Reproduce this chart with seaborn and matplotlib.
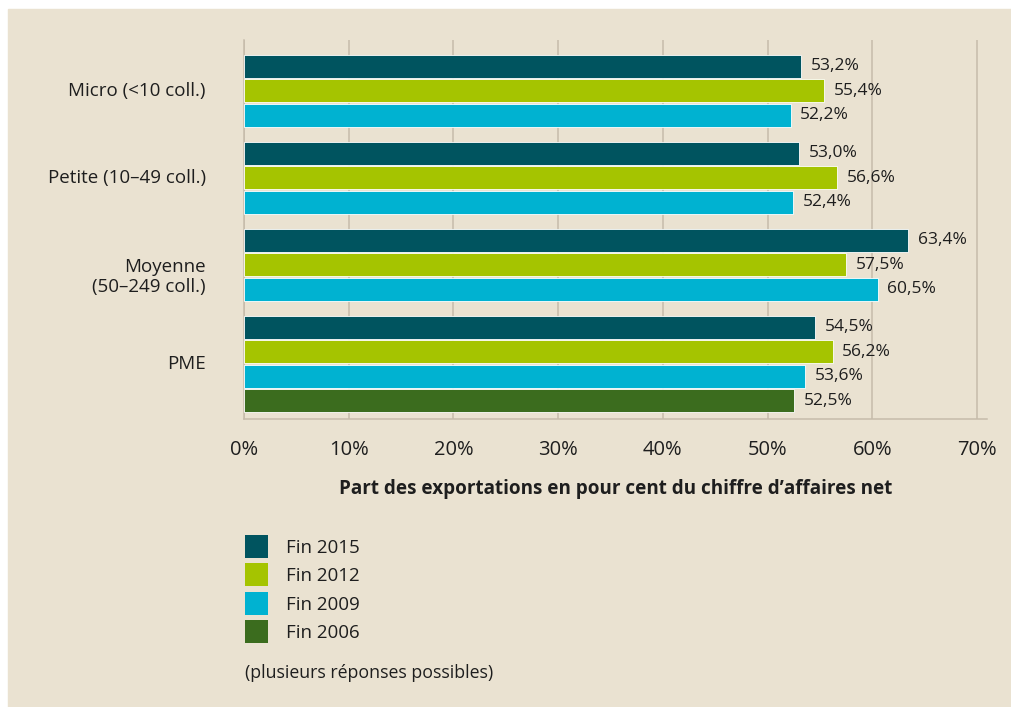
import numpy as np
import pandas as pd
import seaborn as sns
import matplotlib.pyplot as plt
from matplotlib.patches import Rectangle

# donnees
categories = ["Micro (<10 coll.)", "Petite (10–49 coll.)",
              "Moyenne\n(50–249 coll.)", "PME"]
years = ["Fin 2015", "Fin 2012", "Fin 2009", "Fin 2006"]
micro = [53.2, 55.4, 52.2]
petite = [53.0, 56.6, 52.4]
moyenne = [63.4, 57.5, 60.5]
pme = [54.5, 56.2, 53.6, 52.5]
xticks = [0, 10, 20, 30, 40, 50, 60, 70]

colors = ["#00545F", "#A5C400", "#00B2D1", "#3B6C1E"]
bg = "#EAE2D1"
grid_c = "#C6BCAB"
text_c = "#1E1E1E"


def fr_pct(v):
    return "{:.1f}%".format(v).replace(".", ",")


# une ligne par barre, position continue avec un espace entre les groupes
gap = 0.55
rows = []
centers = []
bounds = []
start = 0.0
for cat, vals in zip(categories, [micro, petite, moyenne, pme]):
    for i, v in enumerate(vals):
        rows.append({"cat": cat, "year": years[i], "value": v, "pos": start + i})
    centers.append(start + (len(vals) - 1) / 2)
    bounds.append((start, start + len(vals) - 1))
    start += len(vals) + gap
df = pd.DataFrame(rows)

sns.set_theme(style="white")
plt.rcParams["font.family"] = ["Open Sans", "DejaVu Sans"]
plt.rcParams["text.color"] = text_c
plt.rcParams["axes.labelcolor"] = text_c
plt.rcParams["xtick.color"] = text_c
plt.rcParams["ytick.color"] = text_c

fig = plt.figure(figsize=(10.11, 7.07), dpi=100, facecolor="white")
fig.patches.append(Rectangle((8 / 1011, 0), 1, 1 - 9 / 707,
                             transform=fig.transFigure, color=bg, zorder=-10))
ax = fig.add_axes([244 / 1011, 1 - 419 / 707, 743 / 1011, 379 / 707])
ax.set_facecolor(bg)

sns.barplot(data=df, x="value", y="pos", hue="year", hue_order=years,
            palette=colors, orient="h", native_scale=True, dodge=False,
            width=0.94, edgecolor="white", linewidth=0.6, saturation=1,
            ax=ax, zorder=3)

for cont in ax.containers:
    ax.bar_label(cont, labels=[fr_pct(v) for v in cont.datavalues],
                 padding=7, fontsize=12.5, color=text_c)

top = bounds[0][0] - 1.08
bottom = bounds[-1][1] + 0.755
ax.set_ylim(bottom, top)
ax.set_xlim(0, 70.95)

# traits de separation des groupes
sep = [top] + [(bounds[k][1] + bounds[k + 1][0]) / 2 for k in range(len(bounds) - 1)] + [bottom]
ax.set_yticks(sep)
ax.set_yticklabels([])
ax.set_ylabel("")
ax.tick_params(axis="y", length=10, width=1.1, color=grid_c, direction="out")

for cat, c in zip(categories, centers):
    ax.annotate(cat, xy=(0, c), xycoords=("axes fraction", "data"),
                xytext=(-38, -12 * cat.count("\n")), textcoords="offset pixels",
                ha="right", va="center", multialignment="right",
                fontsize=13.5, color=text_c, linespacing=1.15)

ax.set_xticks(xticks)
ax.set_xticklabels(["{}%".format(t) for t in xticks], fontsize=14.5)
ax.tick_params(axis="x", length=8, width=1.1, color=grid_c, pad=7)
ax.grid(axis="x", color=grid_c, linewidth=1.1, zorder=0)
ax.set_axisbelow(True)
ax.set_xlabel("Part des exportations en pour cent du chiffre d’affaires net",
              fontsize=13.6, fontweight="bold", labelpad=14)

for s in ["top", "right"]:
    ax.spines[s].set_visible(False)
for s in ["left", "bottom"]:
    ax.spines[s].set_color(grid_c)
    ax.spines[s].set_linewidth(1.1)

sns.move_legend(ax, "upper left", bbox_to_anchor=(245 / 1011, 1 - 535 / 707),
                bbox_transform=fig.transFigure, frameon=False, title=None,
                fontsize=13.5, handlelength=1.227, handleheight=1.51,
                labelspacing=0.293, handletextpad=0.95, borderpad=0,
                borderaxespad=0)
for h in ax.get_legend().legend_handles:
    h.set_edgecolor("none")

fig.text(245 / 1011, 1 - 673 / 707, "(plusieurs réponses possibles)",
         fontsize=12.8, va="center", ha="left", color=text_c)

fig.savefig("out.png", dpi=100, facecolor=fig.get_facecolor())
